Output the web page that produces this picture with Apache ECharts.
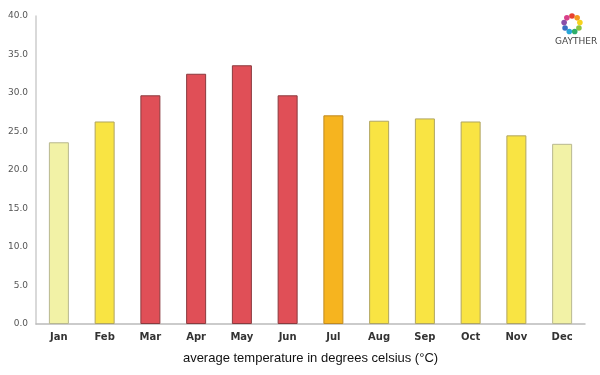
<!DOCTYPE html>
<html>
<head>
<meta charset="utf-8">
<script src="https://cdn.jsdelivr.net/npm/echarts@6/dist/echarts.min.js"></script>
<style>
  html, body { margin: 0; padding: 0; background: #fff; }
  #chart { width: 600px; height: 375px; }
</style>
</head>
<body>
<div id="chart"></div>
<script>
// 数据
const months = ['Jan', 'Feb', 'Mar', 'Apr', 'May', 'Jun', 'Jul', 'Aug', 'Sep', 'Oct', 'Nov', 'Dec'];
const temps = [23.6, 26.3, 29.7, 32.5, 33.6, 29.7, 27.1, 26.4, 26.7, 26.3, 24.5, 23.4];
const barColors = ['#f2f2a6', '#f9e443', '#e04f57', '#e04f57', '#e04f57', '#e04f57',
                   '#f6b41f', '#f9e443', '#f9e443', '#f9e443', '#f9e443', '#f2f2a6'];
const borderColors = ['#b8b890', '#b0a560', '#8a3a3e', '#8a3a3e', '#8a3a3e', '#8a3a3e',
                      '#c08a20', '#b0a560', '#b0a560', '#b0a560', '#b0a560', '#b8b890'];

const chart = echarts.init(document.getElementById('chart'));

// logo 小花瓣
const petalColors = ['#e8412f', '#f39a1e', '#f7d21c', '#8cc43f', '#2fae6a', '#27a6d8', '#3a6ec2', '#8a4ea8', '#d8408a'];
const logo = petalColors.map((c, i) => {
    const a = -Math.PI / 2 + i * 2 * Math.PI / petalColors.length;
    return {
        type: 'circle',
        shape: { cx: 572 + 8 * Math.cos(a), cy: 24 + 8 * Math.sin(a), r: 2.8 },
        style: { fill: c }
    };
});
logo.push({
    type: 'text', left: 555, top: 37,
    style: { text: 'GAYTHER', fill: '#444', font: '9px "DejaVu Sans", sans-serif' }
});

const option = {
    animation: false,
    grid: { left: 36, right: 15, top: 16, bottom: 51, containLabel: false },
    xAxis: {
        type: 'category',
        data: months,
        axisLine: { lineStyle: { color: '#bbbbbb', width: 1.5 } },
        axisTick: { show: false },
        axisLabel: { color: '#333', fontSize: 10, fontWeight: 'bold', margin: 8, fontFamily: '"DejaVu Sans", sans-serif' },
        name: 'average temperature in degrees celsius (°C)',
        nameLocation: 'middle',
        nameGap: 28,
        nameTextStyle: { color: '#111', fontSize: 13, fontFamily: 'Arial, "Liberation Sans", sans-serif' }
    },
    yAxis: {
        type: 'value',
        min: 0,
        max: 40,
        interval: 5,
        axisLine: { show: true, lineStyle: { color: '#cccccc', width: 1.5 } },
        axisTick: { show: false },
        splitLine: { show: false },
        axisLabel: {
            color: '#555', fontSize: 9, margin: 8,
            fontFamily: '"DejaVu Sans", sans-serif',
            formatter: v => v.toFixed(1)
        }
    },
    series: [{
        type: 'bar',
        barWidth: 20,
        data: temps.map((v, i) => ({
            value: v,
            itemStyle: { color: barColors[i], borderColor: borderColors[i], borderWidth: 1 }
        }))
    }],
    graphic: logo
};
chart.setOption(option);
</script>
</body>
</html>
